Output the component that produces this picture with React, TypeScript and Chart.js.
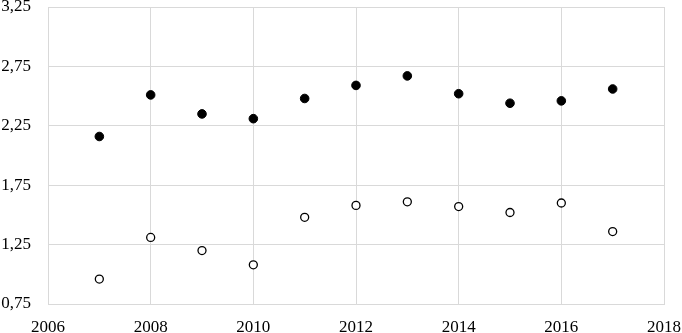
import React, { useEffect, useRef } from "react";
import { Chart, registerables } from "chart.js";

Chart.register(...registerables);

const years = [2007, 2008, 2009, 2010, 2011, 2012, 2013, 2014, 2015, 2016, 2017];
const filledValues = [2.16, 2.51, 2.35, 2.31, 2.48, 2.59, 2.67, 2.52, 2.44, 2.46, 2.56];
const hollowValues = [0.96, 1.31, 1.2, 1.08, 1.48, 1.58, 1.61, 1.57, 1.52, 1.6, 1.36];
const yTicks = [0.75, 1.25, 1.75, 2.25, 2.75, 3.25];
const xMin = 2006;
const xMax = 2018;

export default function App() {
  const ref = useRef<HTMLCanvasElement | null>(null);
  useEffect(() => {
    if (!ref.current) return;
    const font = { family: "'Liberation Serif', 'Times New Roman', serif", size: 17 };
    const chart = new Chart(ref.current, {
      type: "scatter",
      data: {
        datasets: [
          {
            label: "A",
            data: years.map((x, i) => ({ x, y: filledValues[i] })),
            pointRadius: 4.3,
            pointBackgroundColor: "#000000",
            pointBorderColor: "#000000",
            pointBorderWidth: 1,
          },
          {
            label: "B",
            data: years.map((x, i) => ({ x, y: hollowValues[i] })),
            pointRadius: 4,
            pointBackgroundColor: "#ffffff",
            pointBorderColor: "#000000",
            pointBorderWidth: 1.3,
          },
        ],
      },
      options: {
        animation: false,
        responsive: false,
        maintainAspectRatio: false,
        layout: { padding: { top: 7, right: 18, left: 0, bottom: 0 } },
        plugins: { legend: { display: false }, tooltip: { enabled: false } },
        scales: {
          x: {
            type: "linear",
            min: xMin,
            max: xMax,
            afterBuildTicks: (s: any) => {
              const t = [];
              for (let v = xMin; v <= xMax; v += 2) t.push({ value: v });
              s.ticks = t;
            },
            afterFit: (s: any) => {
              s.height = 29;
              s.paddingLeft = 0;
              s.paddingRight = 0;
            },
            grid: { color: "#d9d9d9", lineWidth: 1, drawTicks: false },
            border: { color: "#d9d9d9", width: 1 },
            ticks: {
              color: "#000000",
              font,
              padding: 13,
              maxRotation: 0,
              callback: (v: any) => String(v),
            },
          },
          y: {
            type: "linear",
            min: yTicks[0],
            max: yTicks[yTicks.length - 1],
            afterBuildTicks: (s: any) => {
              s.ticks = yTicks.map((v) => ({ value: v }));
            },
            afterFit: (s: any) => {
              s.width = 48;
              s.paddingTop = 0;
              s.paddingBottom = 0;
            },
            grid: { color: "#d9d9d9", lineWidth: 1, drawTicks: false },
            border: { color: "#d9d9d9", width: 1 },
            ticks: {
              color: "#000000",
              font,
              padding: 17,
              callback: (v: any) => Number(v).toFixed(2).replace(".", ","),
            },
          },
        },
      },
    });
    return () => chart.destroy();
  }, []);
  return (
    <div style={{ position: "fixed", left: 0, top: 0, width: 682, height: 333, background: "#fff" }}>
      <canvas ref={ref} width={682} height={333} style={{ width: 682, height: 333 }} />
    </div>
  );
}
